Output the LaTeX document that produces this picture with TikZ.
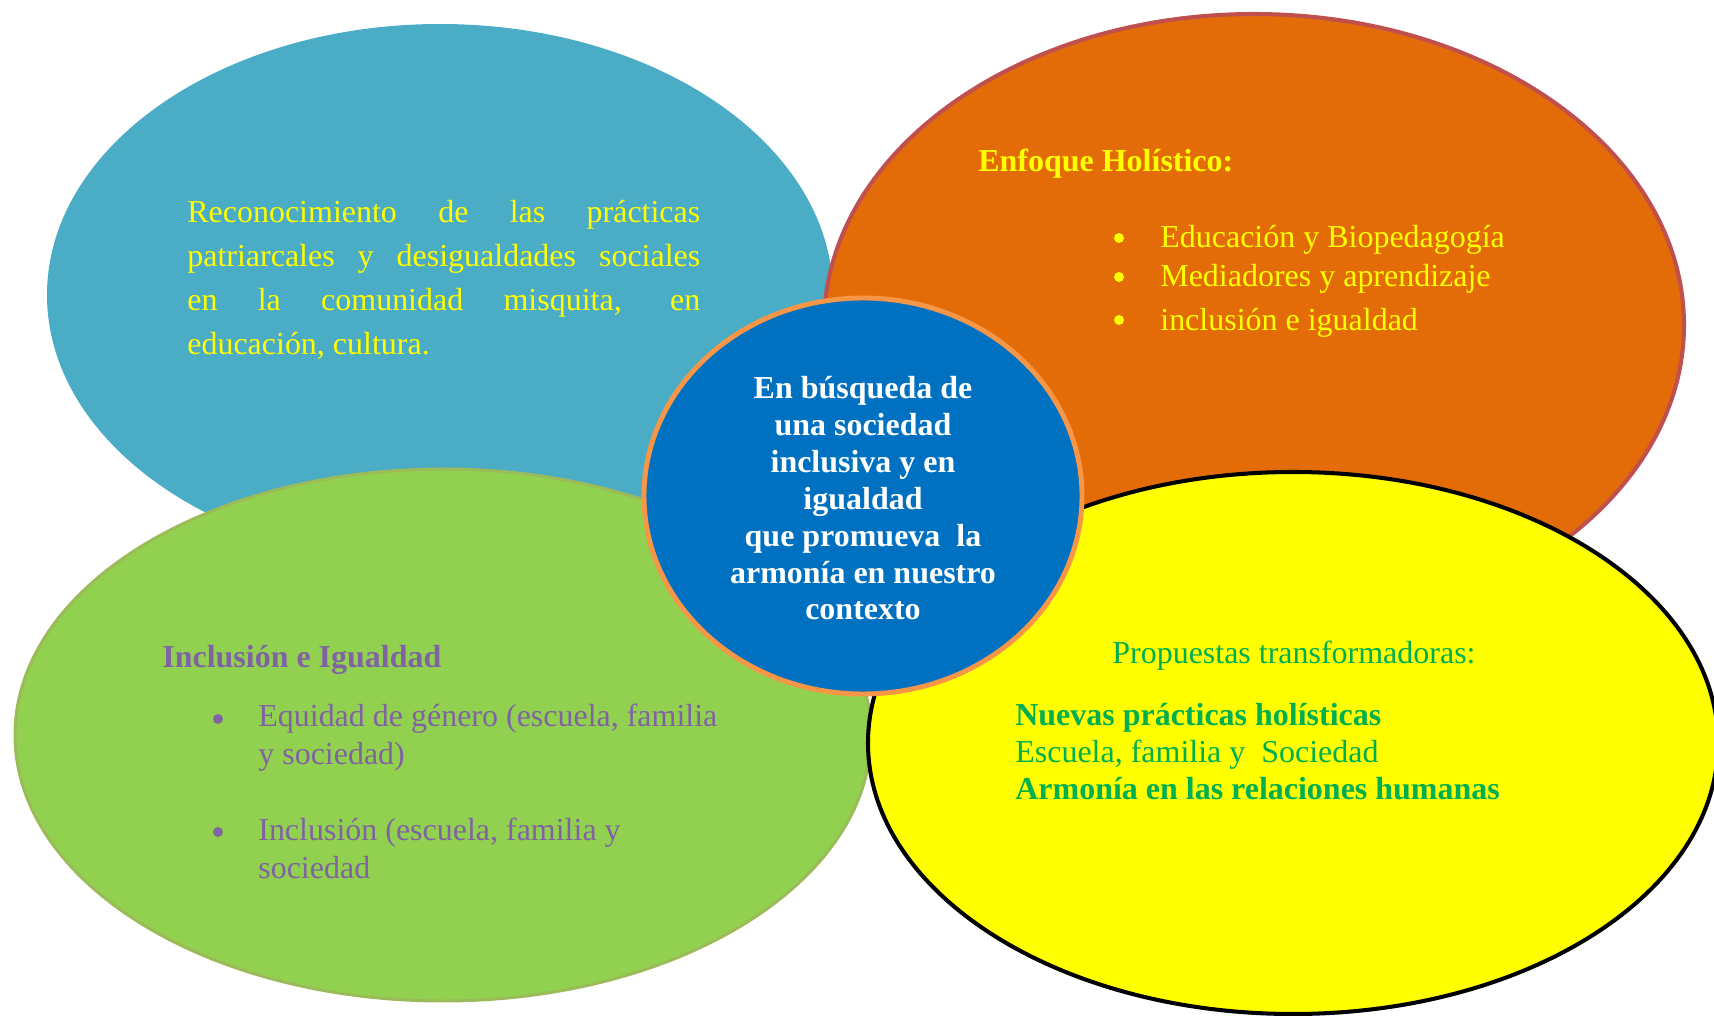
\documentclass[tikz,border=0pt]{standalone}
\usepackage{fontspec}
\setmainfont{Liberation Serif}
\definecolor{celeste}{HTML}{4BACC6}
\definecolor{naranja}{HTML}{E36C09}
\definecolor{rojizo}{HTML}{C0504D}
\definecolor{verde}{HTML}{92D050}
\definecolor{verdeborde}{HTML}{9BBB59}
\definecolor{amarillo}{HTML}{FFFF00}
\definecolor{azul}{HTML}{0070C0}
\definecolor{anaranjado}{HTML}{F79646}
\definecolor{morado}{HTML}{8064A2}
\definecolor{verdetexto}{HTML}{00B050}
\begin{document}
\begin{tikzpicture}[x=0.02cm,y=-0.02cm,
    txt/.style={inner sep=0pt,anchor=base west,align=left,
      font=\fontsize{18.2}{21.2}\selectfont},
    bul/.style={fill=#1}]
  \useasboundingbox (0,0) rectangle (1714,1016);
  \fill[celeste] (440,295) ellipse [x radius=393,y radius=271];
  \filldraw[fill=naranja,draw=rojizo,line width=2.3pt] (1254,325) ellipse [x radius=430,y radius=311];
  \filldraw[fill=verde,draw=verdeborde,line width=1.7pt] (443,735) ellipse [x radius=428,y radius=266];
  \filldraw[fill=amarillo,draw=black,line width=2.3pt] (1293,743) ellipse [x radius=425,y radius=271];
  \filldraw[fill=azul,draw=anaranjado,line width=2.8pt] (863,496) ellipse [x radius=219,y radius=198];

  \node[txt,text width=10.26cm,align=justify,text=amarillo,
    font=\fontsize{18.2}{25}\selectfont] (recon) at (187,223)
    {\tolerance=10000 Reconocimiento de las prácticas\linebreak
     patriarcales y desigualdades sociales\linebreak
     en la comunidad misquita, en\linebreak
     educación, cultura.};

  \node[txt,text=amarillo] (enfoque) at (978,172) {\bfseries Enfoque Holístico:};
  \fill[bul=amarillo] (1119,238) circle (5);
  \fill[bul=amarillo] (1119,277) circle (5);
  \fill[bul=amarillo] (1119,320) circle (5);
  \node[txt,text=amarillo] (edu) at (1160,248) {Educación y Biopedagogía};
  \node[txt,text=amarillo] (med) at (1160,287) {Mediadores y aprendizaje};
  \node[txt,text=amarillo] (incl) at (1160,331) {inclusión e igualdad};

  \node[txt,anchor=base,align=center,text=white,
    font=\fontsize{18.2}{21}\selectfont\bfseries] (centro) at (863,620)
    {En búsqueda de\\una sociedad\\inclusiva y en\\igualdad\\que promueva~ la\\armonía en nuestro\\contexto};

  \node[txt,text=morado] (inclusion) at (162,667) {\bfseries Inclusión e Igualdad};
  \fill[bul=morado] (218,719) circle (5);
  \fill[bul=morado] (218,832) circle (5);
  \node[txt,text=morado,font=\fontsize{18.2}{21.4}\selectfont] (equidad) at (258,764)
    {Equidad de género (escuela, familia\\y sociedad)};
  \node[txt,text=morado,font=\fontsize{18.2}{21.4}\selectfont] (incesc) at (258,878)
    {Inclusión (escuela, familia y\\sociedad};

  \node[txt,text=verdetexto] (propuestas) at (1112,663) {Propuestas transformadoras:};
  \node[txt,text=verdetexto,font=\fontsize{18.2}{21}\selectfont] (nuevas) at (1015,799)
    {\textbf{Nuevas prácticas holísticas}\\Escuela, familia y~ Sociedad\\\textbf{Armonía en las relaciones humanas}};
\end{tikzpicture}
\end{document}
